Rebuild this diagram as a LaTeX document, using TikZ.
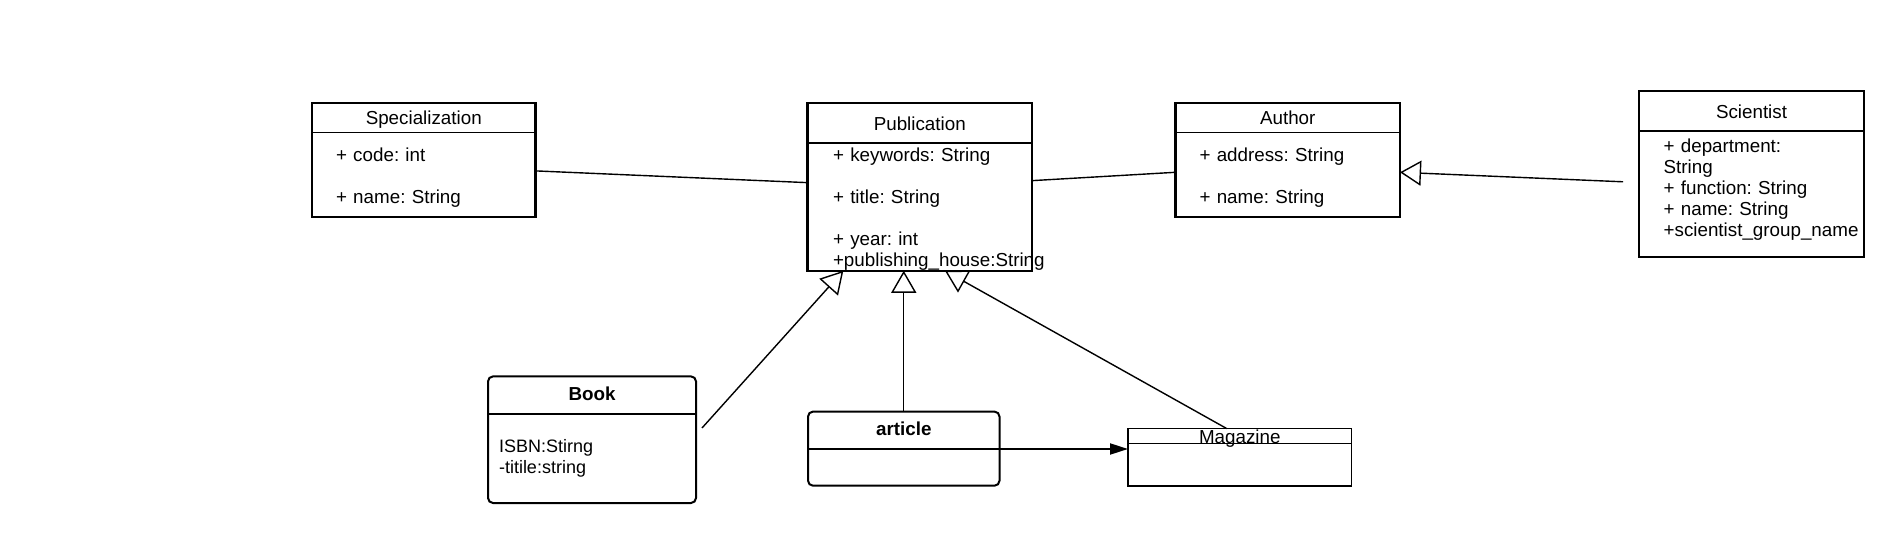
\documentclass[tikz,border=0pt]{standalone}
\usepackage{fontspec}
\setmainfont{Liberation Sans}
\usepackage{tikz}
\usetikzlibrary{
    arrows.meta,
    positioning
}
\newcommand{\umlfont}{\fontsize{9.4pt}{10.5pt}\selectfont\frenchspacing}
\newcommand{\attrstrut}{\rule{0pt}{9.3pt}}
\tikzset{
    classhead/.style={
        inner sep=0pt,
        outer sep=0pt,
        align=center,
        text height=7.3pt,
        text depth=0pt,
        font=\umlfont
    }
}
\tikzset{
    classbody/.style={
        inner ysep=0pt,
        inner xsep=12pt,
        outer sep=0pt,
        align=left,
        font=\umlfont
    }
}
\tikzset{
    classframe/.style={
        draw=black,
        line width=1.1pt
    }
}
\tikzset{
    classrule/.style={
        draw=black,
        line width=0.65pt
    }
}
\tikzset{
    association/.style={
        draw=black,
        line width=0.7pt
    }
}
\tikzset{
    generalization/.style={
        draw=black,
        line width=0.7pt,
        -{Triangle[open, length=11pt, width=12.5pt]}
    }
}
\tikzset{
    navigable/.style={
        draw=black,
        line width=1pt,
        -{Triangle[length=9pt, width=5.5pt]}
    }
}

\begin{document}
\begin{tikzpicture}[
    x=0.5pt,
    y=-0.5pt
]

\fill[white] (0,0) rectangle (1904,544);
\useasboundingbox (0,0) rectangle (1904,544);

% ------------------------------------------------------------
% Specialization
% ------------------------------------------------------------

\node[classhead, anchor=north, minimum width=111.75pt, minimum height=14.7pt]
    (spechead) at (423.75,103) {Specialization};

\node[classbody, below=0pt of spechead, text width=87.75pt, minimum height=42.5pt]
    (specbody) {\attrstrut+ code: int\\[10.5pt]+ name: String};

\draw[classframe] (spechead.north west) rectangle (specbody.south east);
\draw[classrule] (spechead.south west) -- (spechead.south east);

% ------------------------------------------------------------
% Publication
% ------------------------------------------------------------

\node[classhead, anchor=north, minimum width=112.25pt, minimum height=20.15pt]
    (pubhead) at (919.75,103) {Publication};

\node[classbody, below=0pt of pubhead, inner xsep=12.75pt, text width=86.75pt,
      minimum height=63.15pt]
    (pubbody) {\attrstrut+ keywords: String\\[10.5pt]+ title: String\\[10.5pt]+ year: int\\\mbox{+publishing\_house:String}};

\draw[classframe] (pubhead.north west) rectangle (pubbody.south east);
\draw[classrule, line width=1pt] (pubhead.south west) -- (pubhead.south east);

% ------------------------------------------------------------
% Author
% ------------------------------------------------------------

\node[classhead, anchor=north, minimum width=112.25pt, minimum height=14.7pt]
    (authorhead) at (1287.75,103) {Author};

\node[classbody, below=0pt of authorhead, text width=88.25pt, minimum height=42.5pt]
    (authorbody) {\attrstrut+ address: String\\[10.5pt]+ name: String};

\draw[classframe] (authorhead.north west) rectangle (authorbody.south east);
\draw[classrule] (authorhead.south west) -- (authorhead.south east);

% ------------------------------------------------------------
% Scientist
% ------------------------------------------------------------

\node[classhead, anchor=north, minimum width=112.5pt, minimum height=20pt]
    (scientisthead) at (1751.5,91) {Scientist};

\node[classbody, below=0pt of scientisthead, inner xsep=12.3pt, text width=87.9pt,
      minimum height=63.2pt]
    (scientistbody) {+ department:\\String\\+ function: String\\+ name: String\\\mbox{+scientist\_group\_name}\\[-4pt]\mbox{}};

\draw[classframe, line width=1pt] (scientisthead.north west) rectangle (scientistbody.south east);
\draw[classrule] (scientisthead.south west) -- (scientisthead.south east);

% ------------------------------------------------------------
% Book
% ------------------------------------------------------------

\node[classhead, anchor=north, minimum width=104pt, minimum height=18.8pt,
      text depth=2.4pt, font=\umlfont\bfseries]
    (bookhead) at (592,376.4) {Book};

\node[classbody, below=0pt of bookhead, inner xsep=5.5pt, text width=93pt,
      minimum height=44.5pt, font=\fontsize{9pt}{10.5pt}\selectfont]
    (bookbody) {ISBN:Stirng\\-titile:string};

\draw[classframe, line width=1pt, rounded corners=2.5pt]
    (bookhead.north west) rectangle (bookbody.south east);
\draw[classrule, line width=0.8pt] (bookhead.south west) -- (bookhead.south east);

% ------------------------------------------------------------
% article
% ------------------------------------------------------------

\node[classhead, anchor=north, minimum width=95.75pt, minimum height=18.7pt,
      text depth=2.4pt, font=\umlfont\bfseries]
    (articlehead) at (903.75,411.6) {article};

\node[classbody, below=0pt of articlehead, text width=71.75pt, minimum height=18.35pt]
    (articlebody) {};

\draw[classframe, line width=1pt, rounded corners=2.5pt]
    (articlehead.north west) rectangle (articlebody.south east);
\draw[classrule, line width=0.8pt] (articlehead.south west) -- (articlehead.south east);

% ------------------------------------------------------------
% Magazine
% ------------------------------------------------------------

\node[classhead, anchor=north, minimum width=111.75pt, minimum height=7.2pt]
    (maghead) at (1239.75,428.6) {};

\node[classbody, below=0pt of maghead, text width=87.75pt, minimum height=21.35pt]
    (magbody) {};

\node[classhead, anchor=base, text height=0pt] (magtitle) at (maghead.south) {Magazine};

\draw[classframe, line width=0.8pt] (maghead.north west) rectangle (magbody.south east);
\draw[classrule, line width=0.5pt] (maghead.south west) -- (maghead.south east);

% ------------------------------------------------------------
% Associations
% ------------------------------------------------------------

\draw[association]
    ([yshift=2pt]specbody.east) -- ([yshift=12.2pt]pubbody.west);

\draw[association]
    ([yshift=13.2pt]pubbody.east) -- ([yshift=1.3pt]authorbody.west);

\draw[navigable]
    (articlebody.north east) -- (articlebody.north east -| magbody.west);

% ------------------------------------------------------------
% Generalizations
% ------------------------------------------------------------

\coordinate (scientistlink) at ([xshift=-8pt, yshift=6.2pt]scientistbody.west);
\coordinate (booklink) at ([xshift=3pt, yshift=15.25pt]bookbody.east);

\draw[generalization, -{Triangle[open, length=10.5pt, width=12.5pt]}]
    (scientistlink) -- ([yshift=1.3pt]authorbody.east);

\draw[generalization]
    (booklink) -- ([xshift=17.9pt]pubbody.south west);

\draw[generalization]
    (articlehead.north) -- (articlehead.north |- pubbody.south);

\draw[generalization]
    ([xshift=-6.5pt]maghead.north) -- ([xshift=68.75pt]pubbody.south west);

\end{tikzpicture}
\end{document}
